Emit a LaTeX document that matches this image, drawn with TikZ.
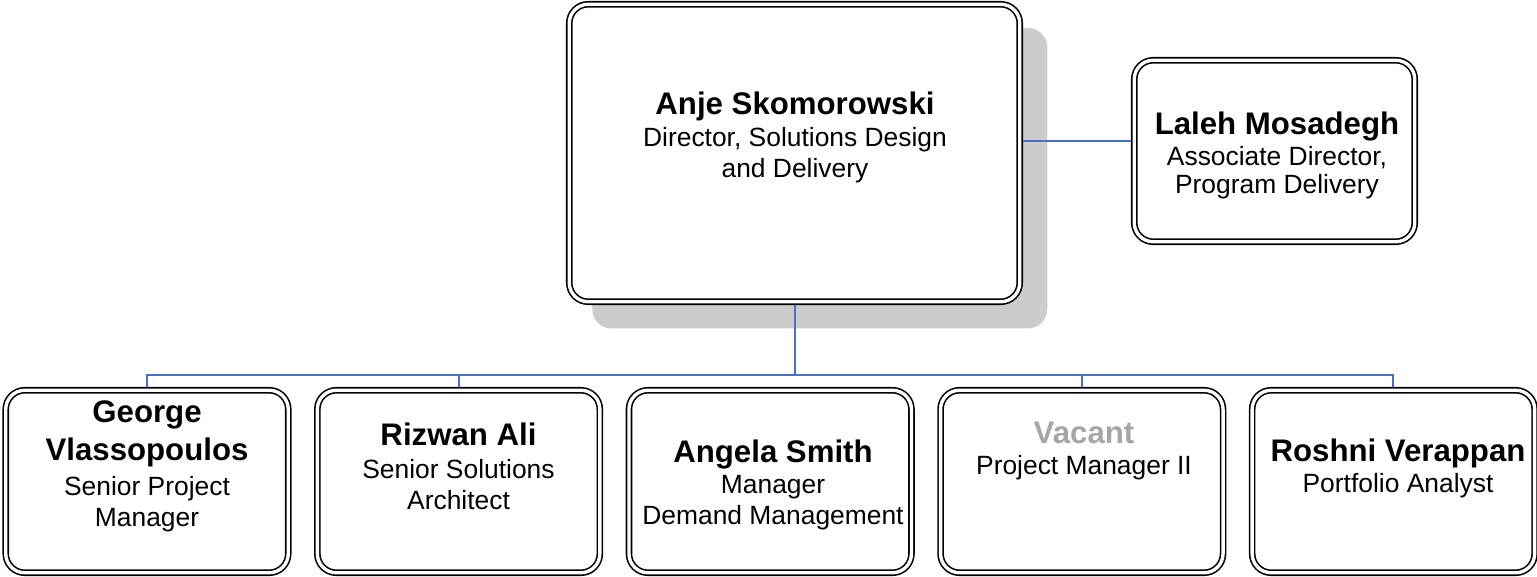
\documentclass[tikz,border=0pt]{standalone}
\usepackage{fontspec}
\setmainfont{Liberation Sans}
\usetikzlibrary{positioning,shadows}
\definecolor{linkblue}{RGB}{68,114,196}
\definecolor{vacantgray}{RGB}{166,166,166}
\newcommand{\nm}[1]{{\fontsize{15.6pt}{15.5pt}\selectfont\bfseries #1}}

\begin{document}
\begin{tikzpicture}[x=0.5pt, y=-0.5pt,
  card/.style={rectangle, rounded corners=9.5pt, draw, line width=0.8pt, double=white, double distance=1.7pt, fill=white, minimum width=141.25pt, minimum height=91.25pt, inner sep=0pt, outer sep=1.65pt},
  txt/.style={align=center, inner sep=0pt, font=\fontsize{13.2pt}{15.5pt}\selectfont},
  link/.style={draw=linkblue, line width=1pt},
]
  \useasboundingbox (0,0) rectangle (1537,577);

  \node[card, minimum width=225.25pt, minimum height=148.75pt, drop shadow={shadow xshift=12.5pt, shadow yshift=-12.5pt, shadow scale=1.01, fill=black!20, opacity=1}] (anje) at (794.5,153) {};
  \node[card, minimum width=140.25pt, minimum height=90.75pt] (laleh) at (1274.5,151) {};

  \node[card] (george) at (147,481.5) {};
  \node[card] (rizwan) at (458.6,481.5) {};
  \node[card] (angela) at (770.2,481.5) {};
  \node[card] (vacant) at (1081.8,481.5) {};
  \node[card] (roshni) at (1393.4,481.5) {};

  \node[txt] (anjeT) at (795,137.4) {\nm{Anje Skomorowski}\\[0.5pt]Director, Solutions Design\\and Delivery};
  \node[txt] (lalehT) at (1277,155.5) {\nm{Laleh Mosadegh}\\Associate Director,\\[-1.5pt]Program Delivery};
  \node[txt] (georgeT) at (147,465.9) {\nm{George}\\[3.5pt]\nm{Vlassopoulos}\\[2pt]Senior Project\\Manager};
  \node[txt] (rizwanT) at (458.5,466.1) {\nm{Rizwan Ali}\\[1pt]Senior Solutions\\Architect};
  \node[txt] (angelaT) at (773,484.9) {\nm{Angela Smith}\\Manager\\Demand Management};
  \node[txt] (vacantT) at (1084,451.4) {\nm{\textcolor{vacantgray}{Vacant}}\\Project Manager II};
  \node[txt] (roshniT) at (1398,468.4) {\nm{Roshni Verappan}\\Portfolio Analyst};

  % reporting lines
  \coordinate (bus) at (794.5,375);
  \draw[link] ([yshift=6pt]anje.east) -- ([yshift=6pt]anje.east -| laleh.west);
  \draw[link] (anje.south) -- (bus);
  \draw[link] (george.north) |- (bus) -| (roshni.north);
  \draw[link] (rizwan.north) -- (rizwan.north |- bus);
  \draw[link] (vacant.north) -- (vacant.north |- bus);
\end{tikzpicture}
\end{document}
